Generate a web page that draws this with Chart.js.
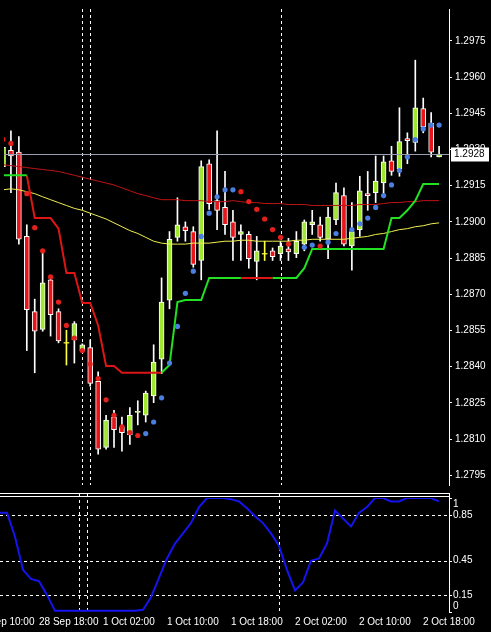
<!DOCTYPE html>
<html><head><meta charset="utf-8">
<script src="https://cdn.jsdelivr.net/npm/chart.js@4.4.1/dist/chart.umd.min.js"></script>
<style>
html,body{margin:0;padding:0;background:#000;width:491px;height:632px;overflow:hidden}
#c1{position:absolute;left:0;top:0}
#c2{position:absolute;left:0;top:494px}
</style></head><body>
<canvas id="c1" width="491" height="494"></canvas>
<canvas id="c2" width="491" height="138"></canvas>
<script>
// ---- data (H1 candles, index 0..55) ----
const opens  = [1.29229,1.29297,1.29289,1.28940,1.28628,1.28555,1.28760,1.28628,1.28499,1.28511,1.28467,1.28479,1.28339,1.28066,1.28191,1.28151,1.28119,1.28211,1.28199,1.28279,1.28431,1.28676,1.28936,1.28980,1.28960,1.28840,1.29241,1.29088,1.29060,1.29000,1.28948,1.28948,1.28836,1.28868,1.28880,1.28868,1.28888,1.28868,1.28908,1.28988,1.28988,1.28928,1.29008,1.29109,1.28900,1.28968,1.29117,1.29121,1.29161,1.29253,1.29221,1.29345,1.29329,1.29469,1.29409,1.29269];
const highs  = [1.29341,1.29377,1.29353,1.28988,1.28680,1.28880,1.28772,1.28640,1.28551,1.28587,1.28495,1.28511,1.28379,1.28199,1.28219,1.28191,1.28231,1.28259,1.28299,1.28491,1.28768,1.28960,1.29100,1.29000,1.28980,1.29253,1.29257,1.29377,1.29209,1.29048,1.28988,1.28960,1.28940,1.28920,1.28892,1.28920,1.28932,1.28960,1.29008,1.29048,1.29020,1.29060,1.29161,1.29141,1.29080,1.29189,1.29209,1.29273,1.29273,1.29313,1.29473,1.29369,1.29670,1.29513,1.29453,1.29313];
const lows   = [1.29201,1.29121,1.28908,1.28467,1.28375,1.28547,1.28527,1.28499,1.28407,1.28415,1.28459,1.28319,1.28038,1.28058,1.28066,1.28050,1.28078,1.28159,1.28171,1.28251,1.28371,1.28640,1.28920,1.28920,1.28812,1.28760,1.29052,1.28968,1.28948,1.28840,1.28840,1.28808,1.28760,1.28840,1.28840,1.28840,1.28840,1.28852,1.28880,1.28948,1.28920,1.28848,1.28988,1.28900,1.28800,1.28940,1.29048,1.29080,1.29100,1.29193,1.29189,1.29241,1.29293,1.29369,1.29269,1.29269];
const closes = [1.29309,1.29273,1.28928,1.28636,1.28547,1.28748,1.28616,1.28507,1.28499,1.28579,1.28491,1.28331,1.28058,1.28179,1.28139,1.28127,1.28199,1.28215,1.28291,1.28419,1.28668,1.28928,1.28988,1.28964,1.28824,1.29229,1.29076,1.29048,1.28988,1.28936,1.28960,1.28848,1.28880,1.28868,1.28856,1.28900,1.28876,1.28920,1.29000,1.29000,1.28936,1.29020,1.29121,1.28908,1.28960,1.29129,1.29109,1.29169,1.29249,1.29209,1.29333,1.29337,1.29473,1.29393,1.29289,1.29281];
const maSlow = [1.29237,1.29233,1.29229,1.29225,1.29221,1.29217,1.29213,1.29209,1.29201,1.29193,1.29185,1.29177,1.29169,1.29161,1.29153,1.29141,1.29129,1.29117,1.29109,1.29100,1.29092,1.29092,1.29092,1.29088,1.29088,1.29088,1.29084,1.29084,1.29084,1.29088,1.29084,1.29080,1.29080,1.29076,1.29076,1.29076,1.29072,1.29072,1.29072,1.29068,1.29068,1.29068,1.29068,1.29068,1.29068,1.29072,1.29072,1.29072,1.29076,1.29080,1.29080,1.29084,1.29084,1.29088,1.29088,1.29088];
const maFast = [1.29133,1.29137,1.29133,1.29125,1.29117,1.29104,1.29092,1.29080,1.29068,1.29056,1.29048,1.29036,1.29024,1.29012,1.28996,1.28980,1.28964,1.28952,1.28936,1.28920,1.28912,1.28908,1.28908,1.28908,1.28912,1.28912,1.28912,1.28916,1.28920,1.28920,1.28924,1.28924,1.28920,1.28920,1.28920,1.28920,1.28920,1.28924,1.28924,1.28928,1.28928,1.28928,1.28928,1.28928,1.28932,1.28936,1.28940,1.28948,1.28952,1.28960,1.28968,1.28972,1.28980,1.28984,1.28992,1.28996];
const stopUp   = [1.29193,1.29193,1.29193,1.29193,null,null,null,null,null,null,null,null,null,null,null,null,null,null,null,null,1.28375,1.28407,1.28668,1.28676,1.28676,1.28676,1.28768,1.28768,1.28768,1.28768,1.28768,null,null,null,1.28768,1.28768,1.28768,1.28768,1.28808,1.28888,1.28888,1.28888,1.28888,1.28888,1.28888,1.28888,1.28888,1.28888,1.28888,1.29016,1.29016,1.29048,1.29088,1.29157,1.29157,1.29157];
const stopDown = [null,null,null,1.29193,1.29016,1.29016,1.29016,1.28972,1.28788,1.28788,1.28664,1.28664,1.28571,1.28403,1.28403,1.28375,1.28375,1.28375,1.28375,1.28375,1.28375,null,null,null,null,null,null,null,null,null,1.28768,1.28768,1.28768,1.28768,1.28768,null,null,null,null,null,null,null,null,null,null,null,null,null,null,null,null,null,null,null,null,null];
const sarAbove = [1.29341,1.29325,null,1.29117,1.28976,1.28880,1.28772,1.28668,1.28571,1.28519,1.28467,1.28411,1.28351,1.28263,1.28199,1.28151,1.28127,1.28115,null,null,null,null,null,null,null,null,null,null,null,null,1.29125,1.29084,1.29052,1.29012,1.28968,1.28936,1.28908,null,null,null,1.28900,null,null,null,null,null,null,null,null,null,null,null,null,null,null,null];
const sarBelow = [null,null,null,null,null,null,null,null,null,null,null,null,null,null,null,null,null,null,1.28123,1.28171,1.28271,1.28415,1.28567,1.28704,1.28796,1.28940,1.29036,1.29104,1.29133,1.29133,null,null,null,null,null,null,null,null,1.28895,1.28904,null,1.28916,1.28952,null,1.28968,1.28992,1.29016,1.29060,1.29109,1.29153,1.29213,1.29269,1.29341,1.29385,1.29401,1.29401];
const oscValues = [0.87,0.87,0.66,0.37,0.29,0.27,0.15,0.01,0.01,0.01,0.01,0.01,0.01,0.01,0.01,0.01,0.01,0.01,0.02,0.13,0.30,0.47,0.60,0.69,0.78,0.92,1.0,1.0,1.0,0.99,0.97,0.91,0.84,0.78,0.69,0.58,0.37,0.19,0.26,0.45,0.47,0.60,0.89,0.82,0.75,0.87,0.92,1.0,1.0,0.97,0.97,1.0,1.0,1.0,1.0,0.97];
const priceTicks = [1.2975,1.2960,1.2945,1.2930,1.2915,1.2900,1.2885,1.2870,1.2855,1.2840,1.2825,1.2810,1.2795];
const oscTicks = [1,0.85,0.45,0.15,0];
const oscGrid = [0.85,0.45,0.15];
const timeLabels = ["28 Sep 10:00","28 Sep 18:00","1 Oct 02:00","1 Oct 10:00","1 Oct 18:00","2 Oct 02:00","2 Oct 10:00","2 Oct 18:00"];
const timeLabelIdx = [-3,5,13,21,29,37,45,53];
const separatorIdx = [10,11,35];
const currentPrice = 1.2928;

const XMIN = 0.125, XMAX = 56.25;
const FONT = '10px "Liberation Sans", Arial, sans-serif';
const idx = opens.map((_, i) => i);
const isDoji = idx.map(i => Math.abs(opens[i] - closes[i]) < 0.00003);
const GREEN = '#9fe82f', RED = '#e8141a', DOJI = '#ffff40';

const pts = arr => arr.map((v, i) => ({x: i, y: v}));

const dashedV = {
  id: 'dashedV',
  beforeDatasetsDraw(chart) {
    const {ctx, chartArea: a, scales: {x}} = chart;
    ctx.save();
    ctx.strokeStyle = '#ffffff'; ctx.lineWidth = 1; ctx.setLineDash([3, 3]);
    separatorIdx.forEach(i => {
      const px = Math.round(x.getPixelForValue(i)) + 0.5;
      ctx.beginPath(); ctx.moveTo(px, a.top); ctx.lineTo(px, a.bottom); ctx.stroke();
    });
    ctx.restore();
  }
};

const priceLine = {
  id: 'priceLine',
  afterDraw(chart) {
    const {ctx, chartArea: a, scales: {y}} = chart;
    const py = Math.round(y.getPixelForValue(currentPrice)) + 0.5;
    ctx.save();
    ctx.strokeStyle = '#9a9fb0'; ctx.lineWidth = 1;
    ctx.beginPath(); ctx.moveTo(a.left, py); ctx.lineTo(a.right, py); ctx.stroke();
    ctx.fillStyle = '#ffffff';
    ctx.fillRect(a.right + 2, py - 7, 38, 14);
    ctx.fillStyle = '#000000'; ctx.font = FONT; ctx.textBaseline = 'middle';
    ctx.fillText(currentPrice.toFixed(4), a.right + 5, py);
    // pane separator
    ctx.strokeStyle = '#ffffff';
    ctx.beginPath(); ctx.moveTo(0, 493.5); ctx.lineTo(a.right + 1, 493.5); ctx.stroke();
    ctx.restore();
  }
};

new Chart(document.getElementById('c1'), {
  type: 'bar',
  data: {
    datasets: [
      {type: 'line', data: pts(sarAbove), showLine: false, pointRadius: 2.6, pointBackgroundColor: '#e3201c', pointBorderWidth: 0, order: 0},
      {type: 'line', data: pts(sarBelow), showLine: false, pointRadius: 2.6, pointBackgroundColor: '#4a7ee0', pointBorderWidth: 0, order: 0},
      {type: 'line', data: pts(stopUp), borderColor: '#22e022', borderWidth: 2, pointRadius: 0, spanGaps: false, order: 1},
      {type: 'line', data: pts(stopDown), borderColor: '#dd1515', borderWidth: 2, pointRadius: 0, spanGaps: false, order: 1},
      {type: 'line', data: pts(maSlow), borderColor: '#c01414', borderWidth: 1, pointRadius: 0, order: 2},
      {type: 'line', data: pts(maFast), borderColor: '#f0f050', borderWidth: 1, pointRadius: 0, order: 2},
      {data: idx.map(i => ({x: i, y: isDoji[i] ? [opens[i] - 0.000012, opens[i] + 0.000012] : [opens[i], closes[i]]})),
       backgroundColor: idx.map(i => isDoji[i] ? DOJI : (closes[i] > opens[i] ? GREEN : RED)),
       borderColor: idx.map(i => isDoji[i] ? DOJI : '#ffffff'),
       borderWidth: idx.map(i => isDoji[i] ? 0 : 1), borderSkipped: false,
       barThickness: 5, grouped: false, order: 3},
      {data: idx.map(i => ({x: i, y: [lows[i], highs[i]]})),
       backgroundColor: idx.map(i => isDoji[i] ? DOJI : '#ffffff'),
       borderWidth: 0, barThickness: 1, grouped: false, order: 4}
    ]
  },
  options: {
    animation: false, responsive: false, events: [],
    layout: {padding: {left: 0, right: 0, top: 0, bottom: 2}},
    plugins: {legend: {display: false}, tooltip: {enabled: false}},
    scales: {
      x: {type: 'linear', display: false, min: XMIN, max: XMAX, offset: false},
      y: {position: 'right', min: 1.27910, max: 1.29882,
          afterBuildTicks: s => { s.ticks = priceTicks.map(v => ({value: v})); },
          afterFit: s => { s.width = 42; },
          grid: {drawOnChartArea: false, color: '#ffffff', tickLength: 3},
          border: {color: '#ffffff'},
          ticks: {color: '#ffffff', font: {family: '"Liberation Sans", Arial', size: 10}, padding: 3,
                  autoSkip: false, callback: v => v.toFixed(4)}}
    }
  },
  plugins: [dashedV, priceLine]
});

const oscDecor = {
  id: 'oscDecor',
  beforeDatasetsDraw(chart) {
    const {ctx, chartArea: a, scales: {x, y}} = chart;
    ctx.save();
    ctx.strokeStyle = '#ffffff'; ctx.lineWidth = 1; ctx.setLineDash([3, 3]);
    oscGrid.forEach(v => {
      const py = Math.round(y.getPixelForValue(v)) + 0.5;
      ctx.beginPath(); ctx.moveTo(a.left, py); ctx.lineTo(a.right, py); ctx.stroke();
    });
    separatorIdx.forEach(i => {
      const px = Math.round(x.getPixelForValue(i)) + 0.5;
      ctx.beginPath(); ctx.moveTo(px, 0); ctx.lineTo(px, a.bottom); ctx.stroke();
    });
    ctx.setLineDash([]);
    ctx.beginPath(); ctx.moveTo(0, 2.5); ctx.lineTo(a.right, 2.5); ctx.stroke();
    ctx.beginPath(); ctx.moveTo(a.right + 0.5, 0); ctx.lineTo(a.right + 0.5, a.bottom + 1); ctx.stroke();
    ctx.fillStyle = '#ffffff'; ctx.font = FONT; ctx.textBaseline = 'middle';
    oscTicks.forEach(v => {
      let py = y.getPixelForValue(v);
      ctx.beginPath(); ctx.moveTo(a.right, Math.round(py) + 0.5); ctx.lineTo(a.right + 3, Math.round(py) + 0.5); ctx.stroke();
      py = Math.min(Math.max(py, a.top + 6), a.bottom - 6);
      ctx.fillText(String(v), a.right + 4, py);
    });
    ctx.textBaseline = 'alphabetic';
    timeLabels.forEach((t, k) => {
      const px = x.getPixelForValue(timeLabelIdx[k]);
      ctx.fillText(t, px, 131);
    });
    ctx.restore();
  }
};

new Chart(document.getElementById('c2'), {
  type: 'line',
  data: {datasets: [{data: pts(oscValues), borderColor: '#1414ee', borderWidth: 2, pointRadius: 0, tension: 0}]},
  options: {
    animation: false, responsive: false, events: [],
    layout: {padding: {left: 0, right: 42, top: 4, bottom: 20}},
    plugins: {legend: {display: false}, tooltip: {enabled: false}},
    scales: {
      x: {type: 'linear', display: false, min: XMIN, max: XMAX},
      y: {display: false, min: 0, max: 1}
    }
  },
  plugins: [oscDecor]
});
</script>
</body></html>
